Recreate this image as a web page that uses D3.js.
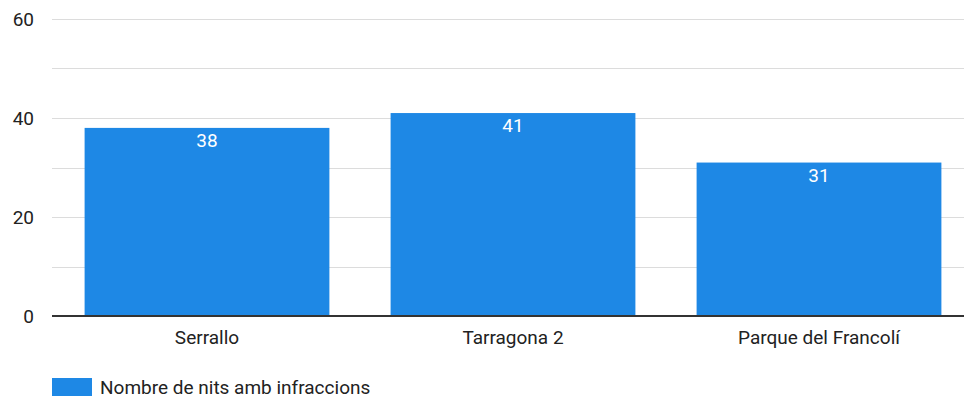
<!DOCTYPE html>
<html><head><meta charset="utf-8">
<script src="https://cdn.jsdelivr.net/npm/d3@7"></script>
<style>body{margin:0;background:#fff;} svg{display:block;font-family:Roboto,Arial,sans-serif;}</style>
</head><body>
<svg id="c" width="964" height="398"></svg>
<script>
const categories = ["Serrallo", "Tarragona 2", "Parque del Francolí"];
const values = [38, 41, 31];
const seriesName = "Nombre de nits amb infraccions";
const yTicks = [0, 20, 40, 60];
const yGrid = [10, 20, 30, 40, 50, 60];

const svg = d3.select("#c");
const y = d3.scaleLinear().domain([0, 60]).range([316, 19]);
const x = d3.scaleBand().domain(categories).range([54, 972]).paddingInner(0.2).paddingOuter(0.1);
const color = "#1e88e5";
const fs = 19;

svg.append("g").selectAll("line").data(yGrid).join("line")
  .attr("x1", 52).attr("x2", 964)
  .attr("y1", d => Math.round(y(d)) + 0.5).attr("y2", d => Math.round(y(d)) + 0.5)
  .attr("stroke", "#dcdcdc").attr("stroke-width", 1);

svg.append("g").selectAll("text").data(yTicks).join("text")
  .attr("x", 34).attr("y", d => y(d) + 7)
  .attr("text-anchor", "end").attr("font-size", fs).attr("fill", "#222")
  .text(d => d);

svg.append("g").selectAll("rect").data(values).join("rect")
  .attr("x", (d, i) => x(categories[i]))
  .attr("width", x.bandwidth())
  .attr("y", d => y(d)).attr("height", d => y(0) - y(d))
  .attr("fill", color);

svg.append("g").selectAll("text").data(values).join("text")
  .attr("x", (d, i) => x(categories[i]) + x.bandwidth() / 2)
  .attr("y", d => y(d) + 19)
  .attr("text-anchor", "middle").attr("font-size", fs).attr("fill", "#fff")
  .text(d => d);

svg.append("line").attr("x1", 52).attr("x2", 964).attr("y1", 316).attr("y2", 316)
  .attr("stroke", "#333").attr("stroke-width", 2);

svg.append("g").selectAll("text").data(categories).join("text")
  .attr("x", d => x(d) + x.bandwidth() / 2).attr("y", 344)
  .attr("text-anchor", "middle").attr("font-size", fs).attr("fill", "#222")
  .text(d => d);

svg.append("rect").attr("x", 52).attr("y", 378).attr("width", 40).attr("height", 18).attr("fill", color);
svg.append("text").attr("x", 100).attr("y", 394).attr("font-size", fs).attr("fill", "#222").text(seriesName);
</script>
</body></html>
